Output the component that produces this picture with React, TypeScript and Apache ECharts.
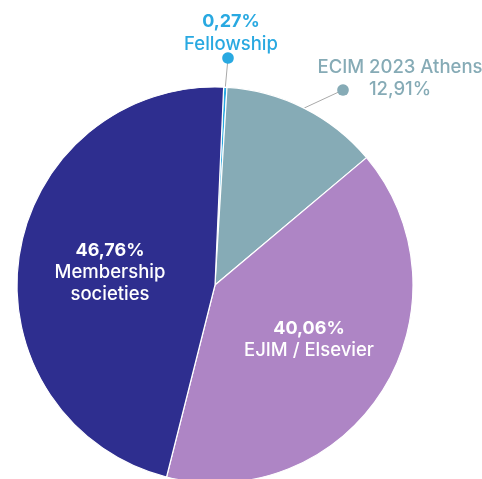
import React, { useEffect, useRef } from "react";
import * as echarts from "echarts";

const categories = ["Fellowship", "ECIM 2023 Athens", "EJIM / Elsevier", "Membership\nsocieties"];
const values = [0.27, 12.91, 40.06, 46.76];
const colors = ["#29a9e1", "#86abb6", "#ae85c5", "#2e2e8f"];

const FONT = "Inter, 'Open Sans', sans-serif";
const CX = 215;
const CY = 285;
const R = 198;

const fmt = (v: number) => v.toFixed(2).replace(".", ",") + "%";

// label anchor positions (layout only)
const labelPos: Record<number, [number, number]> = {
  0: [231, 31],
  1: [400, 77],
  2: [309, 338],
  3: [110, 271],
};
const dotPos: Record<number, [number, number]> = {
  0: [228, 58],
  1: [343, 90],
};

export default function App() {
  const ref = useRef<HTMLDivElement>(null);
  useEffect(() => {
    if (!ref.current) return;
    const chart = echarts.init(ref.current, null, { renderer: "svg" });
    const data = categories.map((c, i) => {
      const outside = i < 2;
      const col = colors[i];
      return {
        name: c,
        value: values[i],
        itemStyle: { color: col },
        label: outside
          ? {
              show: true,
              position: "outside",
              formatter: i === 0
                ? (p: any) => `{b|${fmt(p.value)}}\n{n|${p.name}}`
                : (p: any) => `{n|${p.name}}\n{n|${fmt(p.value)}}`,
              rich: {
                b: { fontFamily: FONT, fontSize: 18, fontWeight: "bold", color: col, lineHeight: 23, align: "center" },
                n: { fontFamily: FONT, fontSize: 18.5, fontWeight: 500, color: col, lineHeight: 22, align: "center" },
              },
            }
          : {
              show: true,
              position: "inside",
              formatter: (p: any) => `{b|${fmt(p.value)}}\n{n|${p.name}}`,
              rich: {
                b: { fontFamily: FONT, fontSize: 18, fontWeight: "bold", color: "#fff", lineHeight: 22, align: "center" },
                n: { fontFamily: FONT, fontSize: 18.5, fontWeight: 500, color: "#fff", lineHeight: 21.5, align: "center" },
              },
            },
        labelLine: outside
          ? { show: true, length: 10, length2: 10, lineStyle: { color: "#a9a9a9", width: 1 } }
          : { show: false },
      };
    });
    chart.setOption({
      animation: false,
      series: [
        {
          type: "pie",
          center: [CX, CY],
          radius: [0, R],
          startAngle: 87.5,
          clockwise: true,
          avoidLabelOverlap: false,
          itemStyle: { borderColor: "#fff", borderWidth: 1.2 },
          data,
          labelLayout: (params: any) => {
            const i = params.dataIndex;
            const [lx, ly] = labelPos[i];
            const res: any = { x: lx, y: ly, align: "center", verticalAlign: "middle" };
            if (dotPos[i] && params.labelLinePoints) {
              const start = params.labelLinePoints[0];
              res.labelLinePoints = [start, dotPos[i], dotPos[i]];
            }
            return res;
          },
        },
      ],
      graphic: [0, 1].map((i) => ({
        type: "circle",
        shape: { cx: dotPos[i][0], cy: dotPos[i][1], r: 5.8 },
        style: { fill: colors[i] },
        z: 100,
      })),
    });
    return () => chart.dispose();
  }, []);
  return (
    <div
      ref={ref}
      style={{ position: "fixed", left: 0, top: 0, width: 482, height: 479 }}
    />
  );
}
